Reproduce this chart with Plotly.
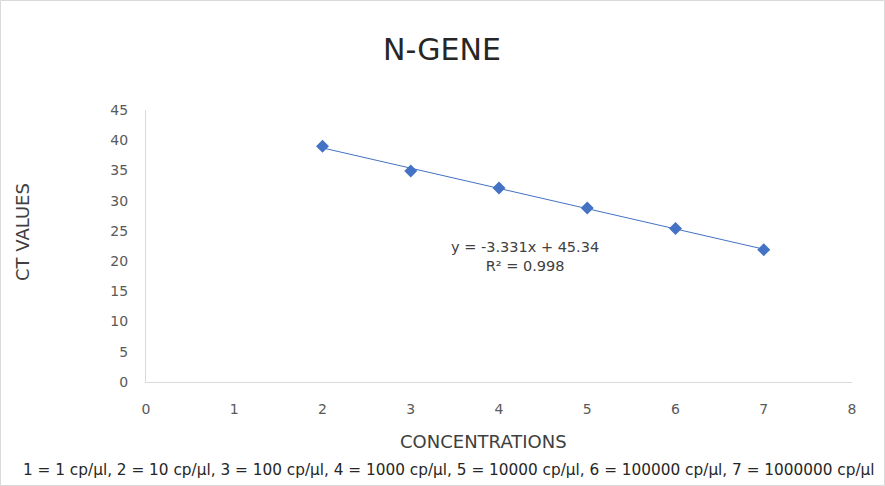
import numpy as np
import plotly.graph_objects as go

concentrations = [2, 3, 4, 5, 6, 7]
ct_values = [39.0, 34.9, 32.1, 28.8, 25.4, 21.9]
x_ticks = [0, 1, 2, 3, 4, 5, 6, 7, 8]
y_ticks = [0, 5, 10, 15, 20, 25, 30, 35, 40, 45]
title_text = "N-GENE"
x_title = "CONCENTRATIONS"
y_title = "CT VALUES"
footnote = "1 = 1 cp/µl, 2 = 10 cp/µl, 3 = 100 cp/µl, 4 = 1000 cp/µl, 5 = 10000 cp/µl, 6 = 100000 cp/µl, 7 = 1000000 cp/µl"
equation = "y = -3.331x + 45.34"
r2_text = "R² = 0.998"

W, H = 885, 486
L, R, T, B = 146, 33, 110, 104
FONT = "DejaVu Sans, sans-serif"
BLUE = "#4472C4"

slope, intercept = np.polyfit(concentrations, ct_values, 1)
fit_x = [min(concentrations), max(concentrations)]
fit_y = [slope * v + intercept for v in fit_x]

pw = W - L - R
ph = H - T - B


def px_x(p):
    return (p - L) / pw


def px_y(p):
    return (H - B - p) / ph


fig = go.Figure()
fig.add_trace(go.Scatter(x=fit_x, y=fit_y, mode="lines",
                         line=dict(color=BLUE, width=1), showlegend=False, hoverinfo="skip"))
fig.add_trace(go.Scatter(x=concentrations, y=ct_values, mode="markers",
                         marker=dict(symbol="diamond", color=BLUE, size=10), showlegend=False))

fig.add_shape(type="rect", xref="paper", yref="paper",
              x0=px_x(0.5), x1=px_x(W - 0.5), y0=px_y(H - 0.5), y1=px_y(0.5),
              line=dict(color="#D9D9D9", width=1))

fig.add_annotation(x=4.29, y=20.7, xref="x", yref="y", text=equation + "<br>" + r2_text,
                   showarrow=False, font=dict(family=FONT, size=14.5, color="#404040"),
                   align="center")

fig.add_annotation(x=px_x(442), y=px_y(50), xref="paper", yref="paper", text=title_text,
                   showarrow=False, xanchor="center", yanchor="middle",
                   font=dict(family=FONT, size=30, color="#262626"))

fig.add_annotation(x=px_x(483), y=px_y(441), xref="paper", yref="paper", text=x_title,
                   showarrow=False, xanchor="center", yanchor="middle",
                   font=dict(family=FONT, size=18, color="#404040"))

fig.add_annotation(x=px_x(22), y=px_y(232), xref="paper", yref="paper", text=y_title,
                   showarrow=False, xanchor="center", yanchor="middle", textangle=-90,
                   font=dict(family=FONT, size=18, color="#404040"))

fig.add_annotation(x=px_x(449), y=px_y(470), xref="paper", yref="paper",
                   text=footnote, showarrow=False, xanchor="center", yanchor="middle",
                   font=dict(family=FONT, size=15.3, color="#262626"))

fig.update_layout(
    width=W, height=H,
    margin=dict(l=L, r=R, t=T, b=B, pad=0),
    paper_bgcolor="white", plot_bgcolor="white",
    font=dict(family=FONT, size=14, color="#595959"),
    xaxis=dict(range=[0, 8], tickvals=x_ticks, showgrid=False, zeroline=False,
               showline=True, linecolor="#D9D9D9", linewidth=1,
               ticks="", ticklabelstandoff=14),
    yaxis=dict(range=[0, 45], tickvals=y_ticks, showgrid=False, zeroline=False,
               showline=True, linecolor="#D9D9D9", linewidth=1,
               ticks="", ticklabelstandoff=14),
)

fig.write_html("out.html")
